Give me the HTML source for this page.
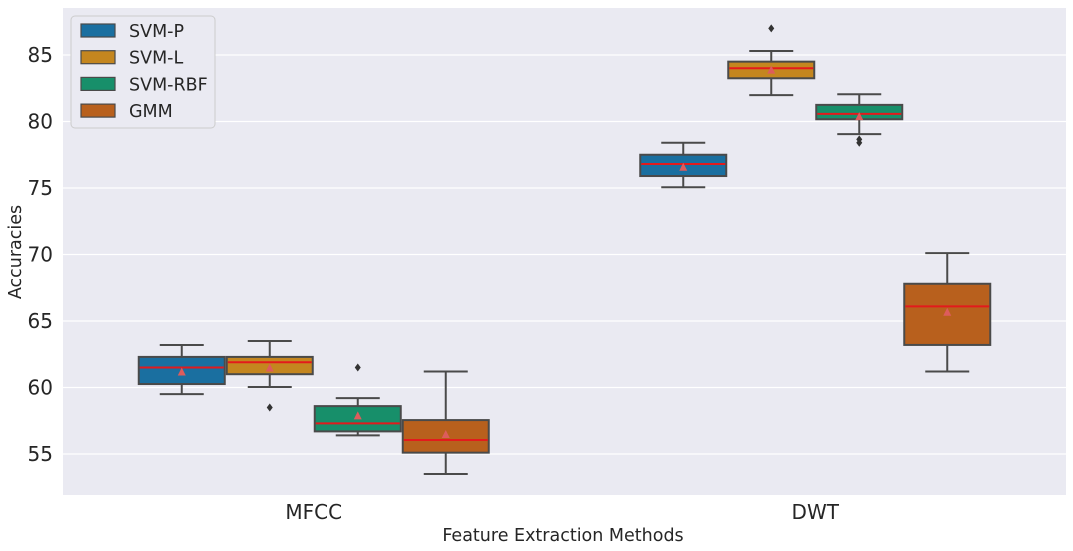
<!DOCTYPE html>
<html><head><meta charset="utf-8"><style>
body{margin:0;background:#fff;font-family:"DejaVu Sans","Liberation Sans",sans-serif}
svg{display:block}
</style></head><body>
<svg id="c" width="1073" height="551" font-family="DejaVu Sans, Liberation Sans, sans-serif">
<rect x="63" y="8" width="1003" height="487" fill="#eaeaf2"/>
<g id="grid"></g><g id="marks"></g><g id="axes"></g>
<g id="legend"></g>
</svg>
<script>
const categories=["MFCC","DWT"];
const series=["SVM-P","SVM-L","SVM-RBF","GMM"];
const colors=["#1a6fa0","#c4861f","#178f6a","#b8601d"];
// [lowWhisker, q1, median, q3, highWhisker, mean]
const mfccStats=[[59.5,60.26,61.5,62.3,63.2,61.2],[60.04,61.0,61.9,62.3,63.5,61.5],[56.4,56.7,57.3,58.6,59.2,57.9],[53.5,55.1,56.05,57.55,61.2,56.5]];
const dwtStats=[[75.06,75.9,76.8,77.5,78.4,76.6],[81.98,83.25,84.0,84.5,85.3,83.9],[79.05,80.17,80.57,81.25,82.05,80.4],[61.2,63.2,66.1,67.8,70.1,65.7]];
const mfccOutliers=[[],[58.5],[61.5],[]];
const dwtOutliers=[[],[87.0],[78.66,78.4],[]];
const yTicks=[55,60,65,70,75,80,85];
const NS="http://www.w3.org/2000/svg";
const x0=63,x1=1066;
function y(v){return 387.5-(v-60)*13.3;}
function xc(ci){return x0+(x1-x0)*(ci*2+1)/4;}
function el(t,a,p){const e=document.createElementNS(NS,t);for(const k in a)e.setAttribute(k,a[k]);p.appendChild(e);return e;}
const grid=document.getElementById('grid'),marks=document.getElementById('marks'),axes=document.getElementById('axes'),leg=document.getElementById('legend');
yTicks.forEach(v=>{
 const l=el('line',{x1:x0,x2:x1,y1:y(v),y2:y(v),stroke:'#fff','stroke-width':1.2},grid);
 
 
 const t=el('text',{x:53,y:y(v)+7,'text-anchor':'end','font-size':20,fill:'#262626'},axes);
 t.textContent=v;
 
 
});
const allStats=[mfccStats,dwtStats],allOut=[mfccOutliers,dwtOutliers];
categories.forEach((c,ci)=>{
 const t=el('text',{x:xc(ci),y:519,'text-anchor':'middle','font-size':20,fill:'#262626'},axes);
 t.textContent=c;
 
 
 series.forEach((s,si)=>{
  const d=allStats[ci][si];const cx=xc(ci)+(si-1.5)*88;const w=86;
  const g=el('g',{},marks);
  
  
  const st={stroke:'#4a4a4a','stroke-width':2};
  el('line',Object.assign({x1:cx,x2:cx,y1:y(d[4]),y2:y(d[3])},st),g);
  el('line',Object.assign({x1:cx,x2:cx,y1:y(d[1]),y2:y(d[0])},st),g);
  el('line',Object.assign({x1:cx-22,x2:cx+22,y1:y(d[4]),y2:y(d[4])},st),g);
  el('line',Object.assign({x1:cx-22,x2:cx+22,y1:y(d[0]),y2:y(d[0])},st),g);
  el('rect',Object.assign({x:cx-w/2,y:y(d[3]),width:w,height:y(d[1])-y(d[3]),fill:colors[si]},st),g);
  el('line',{x1:cx-w/2+1,x2:cx+w/2-1,y1:y(d[2]),y2:y(d[2]),stroke:'#e31a1c','stroke-width':2},g);
  const my=y(d[5]);
  el('polygon',{points:`${cx-4},${my+4} ${cx+4},${my+4} ${cx},${my-4}`,fill:'#dd5c5c'},g);
  allOut[ci][si].forEach(o=>{el('path',{d:`M${cx},${y(o)-4}L${cx+3},${y(o)}L${cx},${y(o)+4}L${cx-3},${y(o)}Z`,fill:'#333'},g);});
 });
});
let t=el('text',{x:563,y:541,'text-anchor':'middle','font-size':17.5,fill:'#262626'},axes);
t.textContent='Feature Extraction Methods';


t=el('text',{x:0,y:0,'text-anchor':'middle','font-size':17.5,fill:'#262626',transform:'translate(21,252) rotate(-90)'},axes);
t.textContent='Accuracies';


el('rect',{x:71,y:16,width:144,height:112,rx:4,fill:'#eaeaf2',stroke:'#ccc','stroke-width':1},leg);
series.forEach((s,si)=>{
 const g=el('g',{},leg);
 
 
 const yy=31+si*26.7;
 el('rect',{x:81,y:yy-7,width:34,height:13,fill:colors[si],stroke:'#4a4a4a','stroke-width':1.2},g);
 const tt=el('text',{x:129,y:yy+6,'font-size':17.5,fill:'#262626'},g);tt.textContent=s;
});
</script>
</body></html>
